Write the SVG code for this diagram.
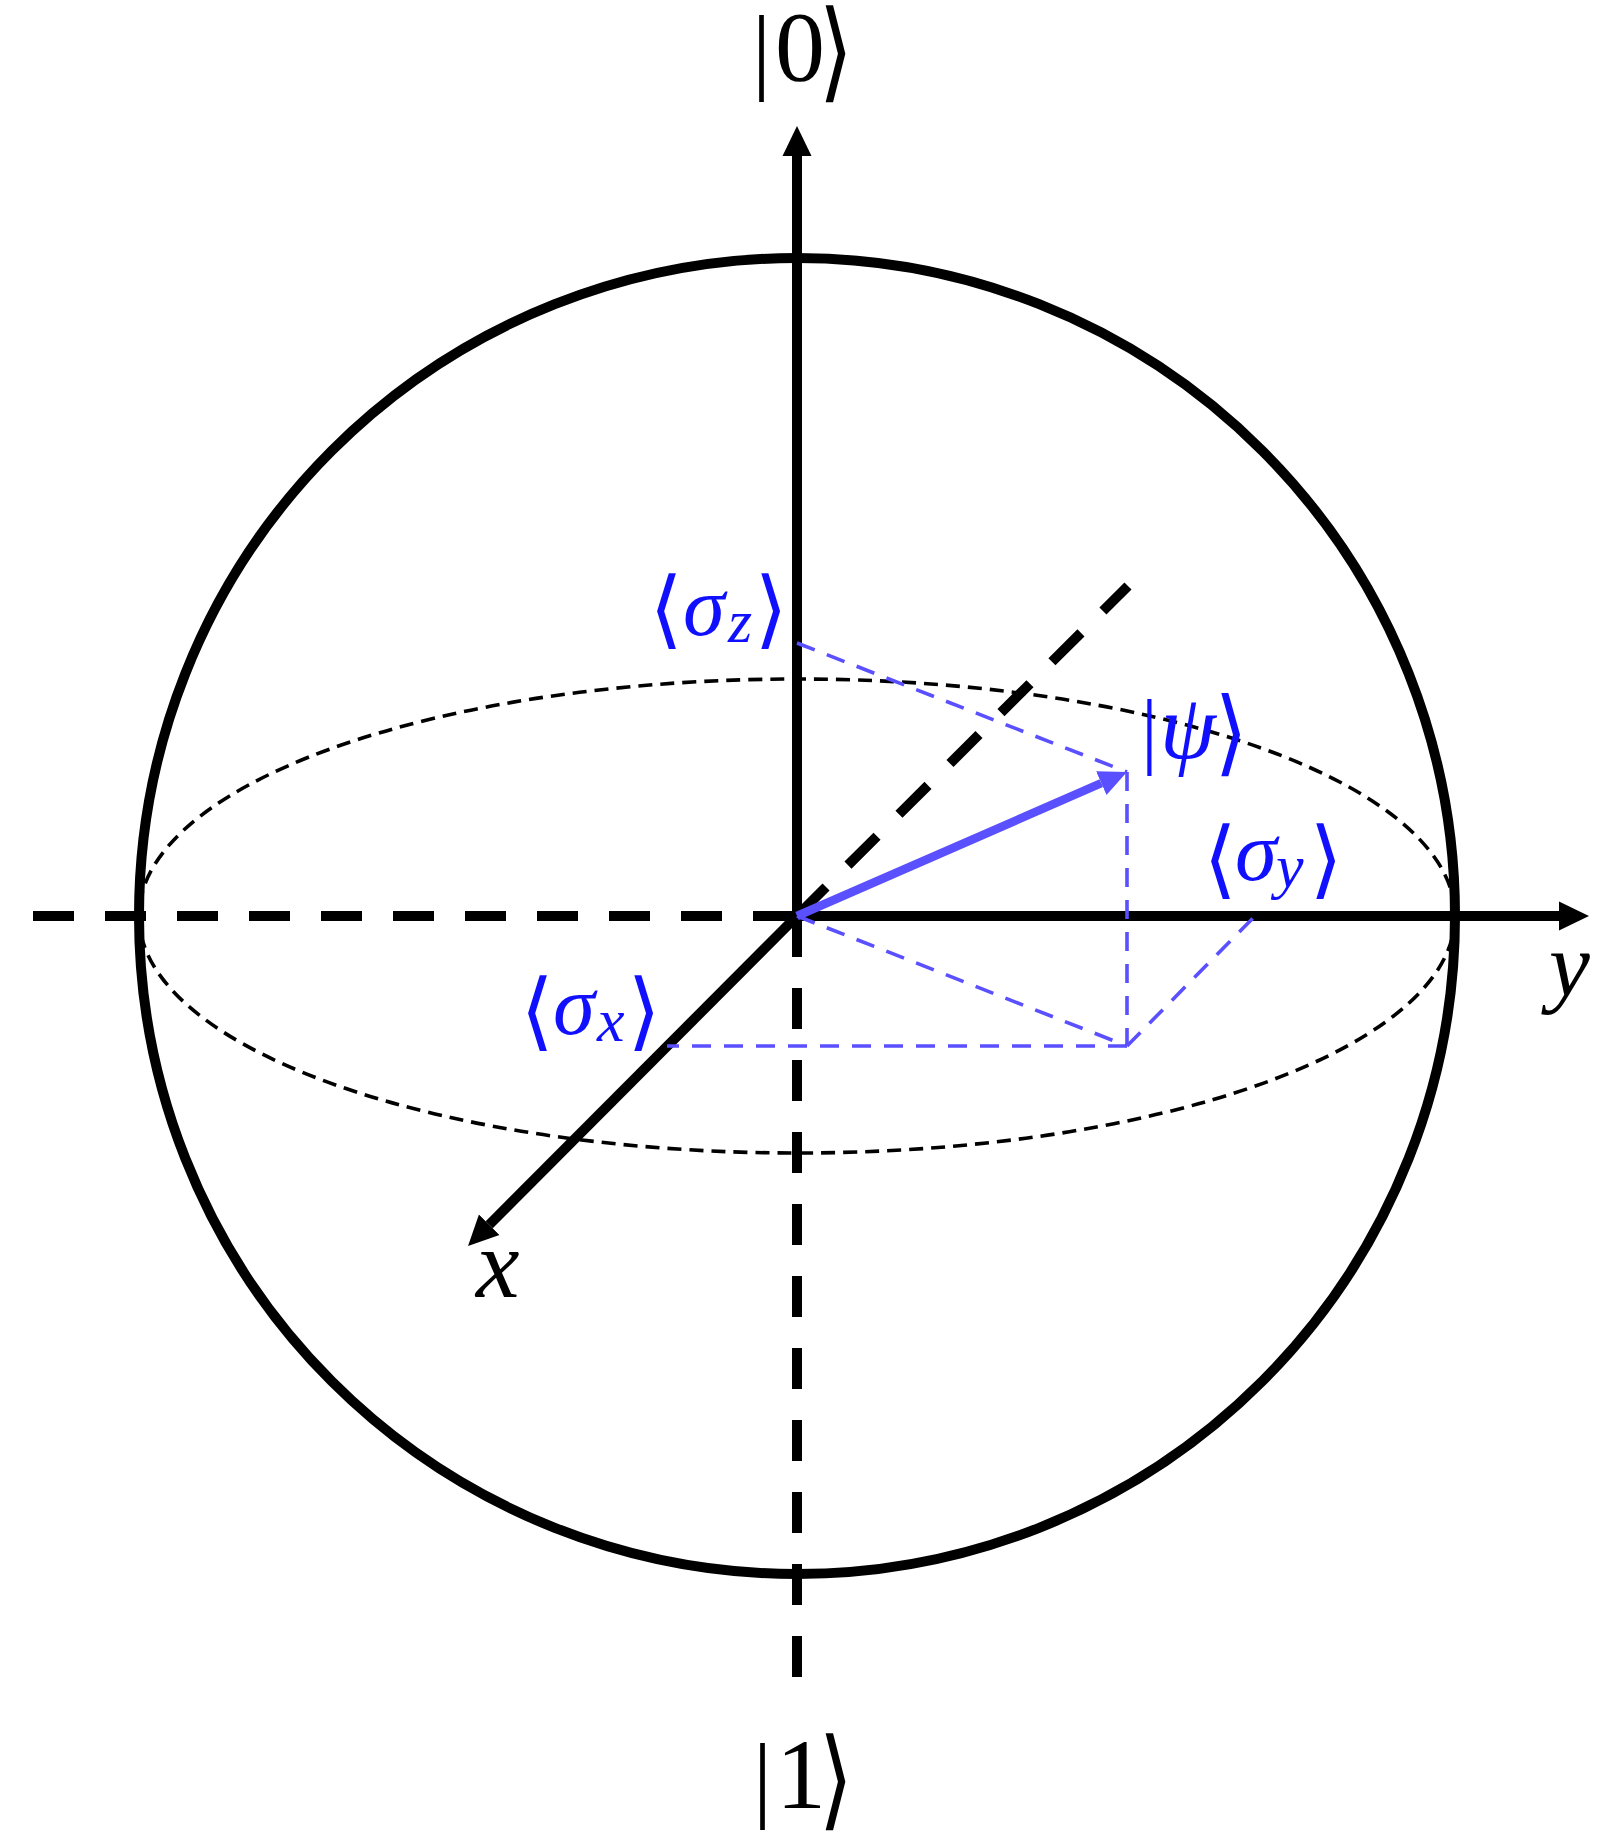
<svg xmlns="http://www.w3.org/2000/svg" width="1622" height="1833" viewBox="0 0 1622 1833">
<style>
.thick{stroke:#000;stroke-width:10;fill:none}
.dash{stroke:#000;stroke-width:10;fill:none;stroke-dasharray:41 31}
.ell{stroke:#000;stroke-width:3.6;fill:none;stroke-dasharray:14 8}
.bdash{stroke:#5a50ff;stroke-width:3.6;fill:none;stroke-dasharray:19 13}
.bar{font-family:"Liberation Serif",serif}
.num{font-family:"Liberation Serif",serif}
.mi{font-family:"Liberation Serif",serif;font-style:italic}
.br{font-family:"DejaVu Sans",sans-serif;font-size:85px;text-anchor:middle}
.blk{fill:#000}
.blu{fill:#1010ff}
</style>
<defs>
<marker id="ah" markerUnits="userSpaceOnUse" markerWidth="32" markerHeight="32" viewBox="0 -16 32 32" refX="0" refY="0" orient="auto">
<path d="M0,-14.5 L30,0 L0,14.5 z" fill="#000"/>
</marker>
<marker id="ahb" markerUnits="userSpaceOnUse" markerWidth="30" markerHeight="30" viewBox="0 -15 30 30" refX="0" refY="0" orient="auto">
<path d="M0,-13 L28,0 L0,13 z" fill="#5a50ff"/>
</marker>
</defs>

<g id="sphere">
<circle cx="797" cy="916" r="658" class="thick" stroke-width="10.5"/>
<ellipse id="equator" cx="797" cy="916" rx="658" ry="237" class="ell"/>
</g>

<g id="connectors">
<line id="axis-y-back" x1="794" y1="916" x2="33" y2="916" class="dash"/>
<line id="axis-z-back" x1="797" y1="916" x2="797" y2="1679" class="dash"/>
<line id="axis-x-back" x1="797" y1="916" x2="1128" y2="586" class="dash"/>
<line id="axis-z" x1="797" y1="916" x2="797" y2="156" class="thick" marker-end="url(#ah)"/>
<line id="axis-y" x1="797" y1="916" x2="1559" y2="916" class="thick" marker-end="url(#ah)"/>
<line id="axis-x" x1="797" y1="916" x2="489.2" y2="1224.8" class="thick" stroke-width="9" marker-end="url(#ah)"/>
<line id="proj-z" x1="797" y1="643" x2="1127" y2="772" class="bdash"/>
<line id="proj-down" x1="1127" y1="772" x2="1127" y2="1046" class="bdash"/>
<line id="proj-xy" x1="797" y1="916" x2="1127" y2="1046" class="bdash"/>
<line id="proj-y" x1="1127" y1="1046" x2="1254" y2="917" class="bdash"/>
<line id="proj-x" x1="1127" y1="1046" x2="667" y2="1046" class="bdash"/>
<line id="psi-vector" x1="797" y1="916" x2="1101.3" y2="783.2" stroke="#5a50ff" stroke-width="8.5" marker-end="url(#ahb)"/>
</g>

<g id="label-ket0" class="blk">
<text><tspan class="bar" x="752" y="82" font-size="95">|</tspan><tspan class="num" x="775" y="80" font-size="100">0</tspan></text>
<text class="br" transform="translate(836,52) scale(1.05,1.28)" x="0" y="28">⟩</text>
</g>
<g id="label-ket1" class="blk">
<text><tspan class="bar" x="753" y="1810" font-size="95">|</tspan><tspan class="num" x="776" y="1808" font-size="100">1</tspan></text>
<text class="br" transform="translate(836,1780) scale(1.05,1.28)" x="0" y="28">⟩</text>
</g>
<g id="label-x" class="blk">
<text class="mi" x="476" y="1297" font-size="98">x</text>
</g>
<g id="label-y" class="blk">
<text class="mi" x="1549" y="996" font-size="92">y</text>
</g>
<g id="label-psi" class="blu">
<text y="758"><tspan class="bar" x="1141" font-size="84">|</tspan><tspan class="mi" x="1160" font-size="90">ψ</tspan></text>
<text class="br" transform="translate(1231,733) scale(1,1.1)" x="0" y="28">⟩</text>
</g>
<g id="label-sigma-z" class="blu">
<text class="br" transform="translate(666,610)" x="0" y="28">⟨</text>
<text y="635"><tspan class="mi" x="683" font-size="85">σ</tspan><tspan class="mi" x="728" y="642" font-size="62">z</tspan></text>
<text class="br" transform="translate(771,610)" x="0" y="28">⟩</text>
</g>
<g id="label-sigma-x" class="blu">
<text class="br" transform="translate(537,1012)" x="0" y="28">⟨</text>
<text y="1034"><tspan class="mi" x="553" font-size="85">σ</tspan><tspan class="mi" x="597" y="1041" font-size="62">x</tspan></text>
<text class="br" transform="translate(644,1012)" x="0" y="28">⟩</text>
</g>
<g id="label-sigma-y" class="blu">
<text class="br" transform="translate(1220,860)" x="0" y="28">⟨</text>
<text y="880"><tspan class="mi" x="1235" font-size="85">σ</tspan><tspan class="mi" x="1276" y="887" font-size="62">y</tspan></text>
<text class="br" transform="translate(1326,860)" x="0" y="28">⟩</text>
</g>
</svg>
